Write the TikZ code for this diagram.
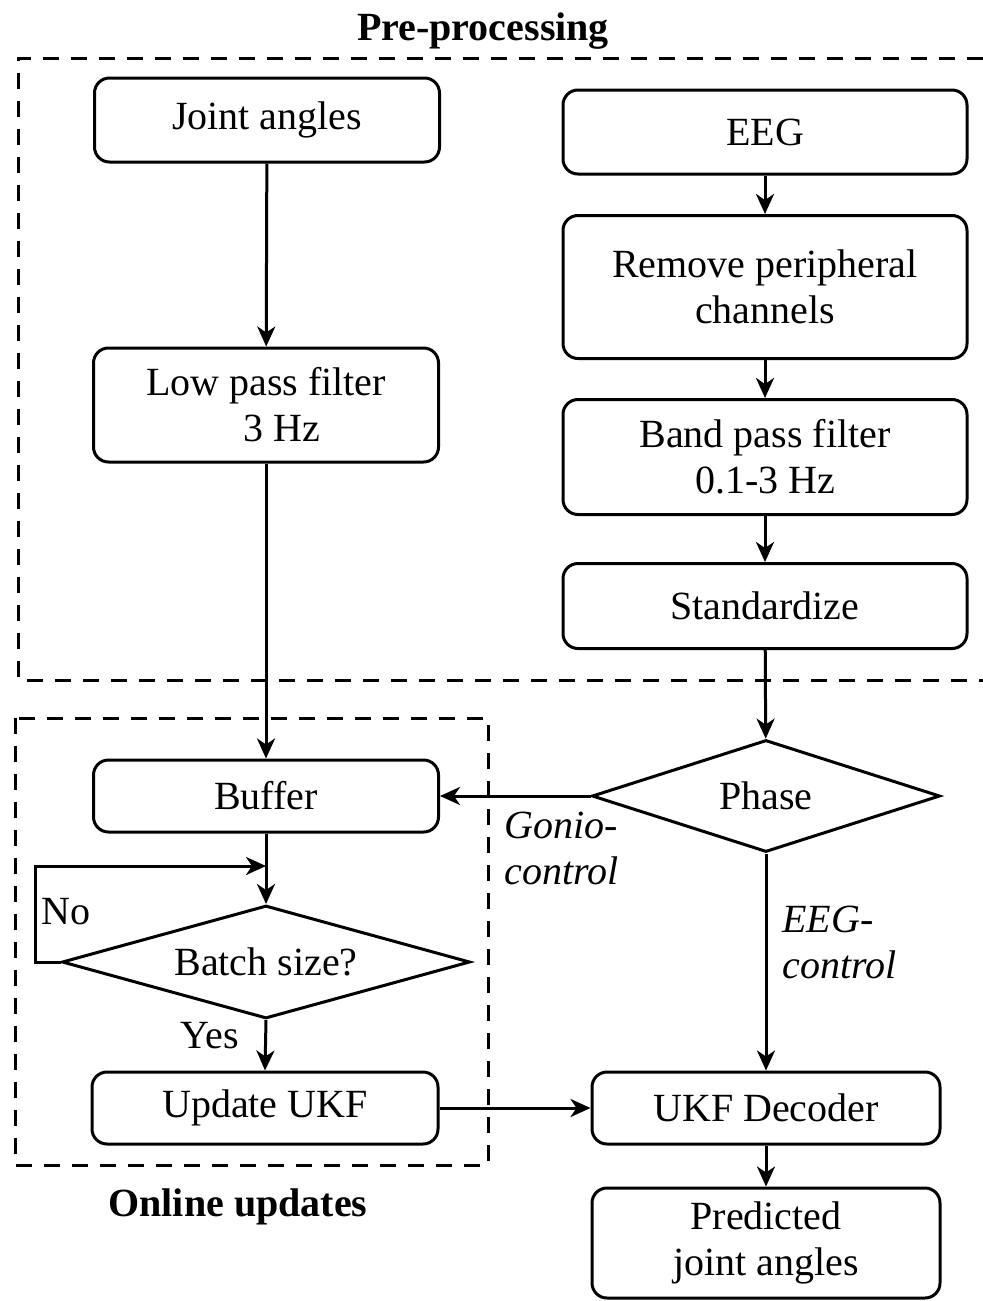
\documentclass[tikz,border=0pt]{standalone}
\usepackage{fontspec}
\setmainfont{Liberation Serif}
\usetikzlibrary{arrows.meta,shapes.geometric}
\begin{document}
\begin{tikzpicture}[x=0.5pt,y=-0.5pt,
  font=\fontsize{20}{23}\selectfont,
  >={Stealth[length=10pt,width=9pt,inset=3pt]},
  line width=1.5pt,
  procbox/.style={draw,rounded corners=7.5pt,align=center,inner sep=0pt},
  decision/.style={draw,diamond,inner sep=0pt,aspect=3.2,align=center},
  flow/.style={->},
  groupline/.style={dashed,dash pattern=on 8pt off 6pt,line width=1.5pt},
  grouptitle/.style={font=\fontsize{20}{23}\selectfont\bfseries},
  edgelabel/.style={font=\fontsize{20}{23}\selectfont\itshape,align=left,inner sep=0pt}]
\useasboundingbox (0,0) rectangle (983,1301);

% group frames
\draw[groupline] (983,58) -- (18,58) -- (18,680) -- (983,680);
\node[grouptitle] (pretitle) at (483,31) {Pre-processing};
\draw[groupline] (15,718) rectangle (488,1165);
\node[grouptitle] (ontitle) at (238,1207) {Online updates};

% joint-angle branch
\node[procbox,minimum width=172.5pt,minimum height=42pt] (joint) at (267,120) {Joint angles};
\node[procbox,minimum width=172.5pt,minimum height=57pt] (lowpass) at (266,405) {Low pass filter\\\hspace*{0.8em}3 Hz};
\node[procbox,minimum width=172.5pt,minimum height=36pt] (buffer) at (266,796) {Buffer};
\node[decision,minimum width=204pt,minimum height=56.5pt] (batch) at (266,962) {Batch size?};
\node[procbox,minimum width=173pt,minimum height=36pt] (update) at (265,1108) {\raisebox{-1.5pt}{Update UKF}};

% EEG branch
\node[procbox,minimum width=202pt,minimum height=42pt] (eeg) at (765,132) {EEG};
\node[procbox,minimum width=202pt,minimum height=71.5pt] (remove) at (765,287) {Remove peripheral\\channels};
\node[procbox,minimum width=202pt,minimum height=57.5pt] (band) at (765,457) {Band pass filter\\0.1-3 Hz};
\node[procbox,minimum width=202pt,minimum height=42.5pt] (stand) at (765,606) {Standardize};
\node[decision,minimum width=174pt,minimum height=56pt] (phase) at (766,796) {Phase};
\node[procbox,minimum width=174pt,minimum height=36pt] (decoder) at (766,1108) {UKF Decoder};
\node[procbox,minimum width=174pt,minimum height=55pt] (pred) at (766,1243) {Predicted\\joint angles};

% connectors
\draw[flow] (joint) -- (lowpass);
\draw[flow] (lowpass) -- (buffer);
\draw[flow] (eeg) -- (remove);
\draw[flow] (remove) -- (band);
\draw[flow] (band) -- (stand);
\draw[flow] (stand) -- (phase);
\draw[flow] (phase.west) -- (buffer.east);
\draw[flow] (phase.south) -- (decoder.north);
\draw[flow] (buffer) -- (batch);
\draw[flow] (batch.south) -- (update.north);
\draw[flow] (update.east) -- (decoder.west);
\draw[flow] (decoder) -- (pred);

% retry loop while the batch is not full
\coordinate (loopin) at (266,866);
\draw[flow] (batch.west) -- (35,962) -- (35,866) -- (loopin);

% labels
\node[edgelabel,anchor=west] (goniolab) at (503,848) {Gonio-\\control};
\node[edgelabel,anchor=west] (eeglab) at (781,942) {EEG-\\control};
\node (nolab) at (66,912) {No};
\node (yeslab) at (210,1036) {Yes};
\end{tikzpicture}
\end{document}
